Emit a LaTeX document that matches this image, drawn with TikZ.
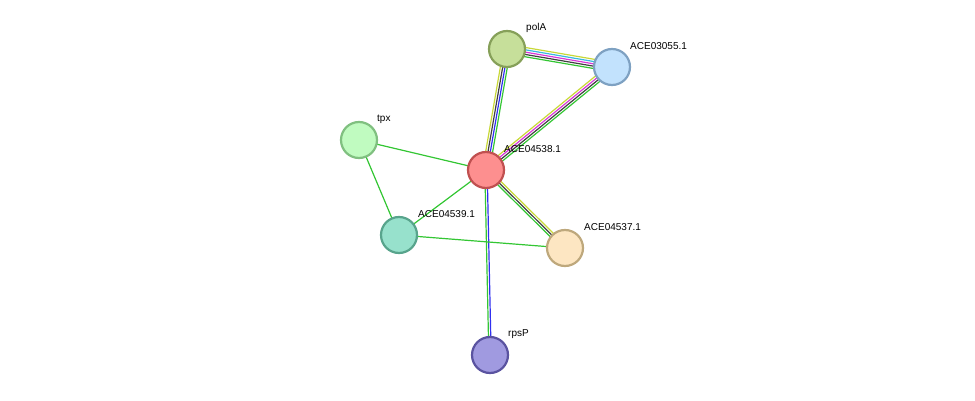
\documentclass[tikz,border=0pt]{standalone}
\usepackage{fontspec}
\setmainfont{Liberation Sans}
\usetikzlibrary{calc,backgrounds}
\definecolor{egreen}{HTML}{33C633}
\definecolor{eyellow}{HTML}{C8D838}
\definecolor{eblue}{HTML}{3030F0}
\definecolor{emag}{HTML}{D838D8}
\definecolor{ecyan}{HTML}{38B8E0}
\definecolor{edark}{HTML}{404040}
\definecolor{fpolA}{HTML}{C6DF9A}\definecolor{dpolA}{HTML}{86A059}
\definecolor{fa055}{HTML}{C2E2FD}\definecolor{da055}{HTML}{7EA1C2}
\definecolor{ftpx}{HTML}{C0FBC0}\definecolor{dtpx}{HTML}{80C080}
\definecolor{fa538}{HTML}{FD8F8F}\definecolor{da538}{HTML}{C05050}
\definecolor{fa539}{HTML}{97E1CC}\definecolor{da539}{HTML}{58A48C}
\definecolor{fa537}{HTML}{FDE6C2}\definecolor{da537}{HTML}{BEA87C}
\definecolor{frps}{HTML}{A09AE0}\definecolor{drps}{HTML}{5A53A0}
\tikzset{
  prot/.style={circle,minimum size=36pt,inner sep=0pt,line width=2.2pt,fill=f#1,draw=d#1},
  lbl/.style={anchor=west,inner sep=0pt,font=\fontsize{10}{12}\selectfont},
}
% parallel coloured lines between two nodes
\newcommand\strlink[4]{%
  \foreach \c [count=\i] in {#4} {%
    \pgfmathsetmacro\off{((#3+1)/2-\i)*2.3}
    \draw[\c,line width=1.2pt] ($(#1)!\off pt!90:(#2)$) -- ($(#2)!\off pt!-90:(#1)$);
  }}
\begin{document}
\begin{tikzpicture}[x=1pt,y=-1pt]
  \useasboundingbox (0,0) rectangle (975,401);
  \node[prot=polA] (polA) at (507,49) {};
  \node[prot=a055] (ace03055) at (612,67) {};
  \node[prot=tpx] (tpx) at (359,140) {};
  \node[prot=a538] (ace04538) at (486,170) {};
  \node[prot=a539] (ace04539) at (399,235) {};
  \node[prot=a537] (ace04537) at (565,248) {};
  \node[prot=rps] (rpsP) at (490,355) {};
  % labels
  \node[lbl] (polA-l) at ($(polA)+(19,-21)$) {polA};
  \node[lbl] (ace03055-l) at ($(ace03055)+(18,-21)$) {ACE03055.1};
  \node[lbl] (tpx-l) at ($(tpx)+(18,-21)$) {tpx};
  \node[lbl] (ace04538-l) at ($(ace04538)+(18,-21)$) {ACE04538.1};
  \node[lbl] (ace04539-l) at ($(ace04539)+(19,-21)$) {ACE04539.1};
  \node[lbl] (ace04537-l) at ($(ace04537)+(19,-21)$) {ACE04537.1};
  \node[lbl] (rpsP-l) at ($(rpsP)+(18,-21)$) {rpsP};
  \begin{scope}[on background layer]
    \strlink{polA}{ace03055}{5}{eyellow,ecyan,emag,edark,egreen}
    \strlink{polA}{ace04538}{4}{egreen,eblue,edark,eyellow}
    \strlink{ace03055}{ace04538}{4}{egreen,edark,emag,eyellow}
    \strlink{ace04538}{ace04537}{3}{eyellow,edark,egreen}
    \strlink{ace04538}{rpsP}{2}{eblue,egreen}
    \strlink{tpx}{ace04538}{1}{egreen}
    \strlink{tpx}{ace04539}{1}{egreen}
    \strlink{ace04538}{ace04539}{1}{egreen}
    \strlink{ace04539}{ace04537}{1}{egreen}
  \end{scope}
\end{tikzpicture}
\end{document}
